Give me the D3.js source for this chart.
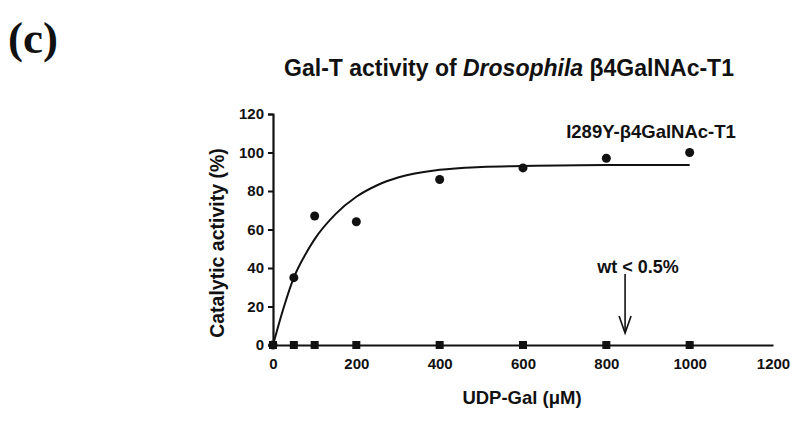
<!DOCTYPE html>
<html>
<head>
<meta charset="utf-8">
<script src="https://cdn.jsdelivr.net/npm/d3@7"></script>
<style>
  body { margin: 0; background: #fff; }
  text { font-family: "Liberation Sans", Arial, sans-serif; font-weight: bold; fill: #111; }
</style>
</head>
<body>
<script>
// measured points, mutant enzyme
var mutX = [0, 50, 100, 200, 400, 600, 800, 1000];
var mutY = [0, 35, 67, 64, 86, 92, 97, 100];
// wild type, all around zero
var wtX = [0, 50, 100, 200, 400, 600, 800, 1000];
var wtY = [0, 0, 0, 0, 0, 0, 0, 0];
// fitted curve
var fitX = [0, 25, 50, 75, 100, 150, 200, 250, 300, 400, 500, 600, 800, 1000];
var fitY = [0, 19, 35, 46, 55, 68, 77, 83, 87, 91, 92.5, 93, 93.5, 93.5];
var xTicks = [0, 200, 400, 600, 800, 1000, 1200];
var yTicks = [0, 20, 40, 60, 80, 100, 120];
var arrowX = 845;

var svg = d3.select("body").append("svg")
    .attr("width", 800)
    .attr("height", 421)

var x = d3.scaleLinear().domain([0, 1200]).range([273, 773])
var y = d3.scaleLinear().domain([0, 120]).range([345, 114])

// y axis
var yAxis = svg.append("g")
    .attr("transform", "translate(" + x(0) + ",0)")
    .call(d3.axisLeft(y).tickValues(yTicks).tickSize(5).tickPadding(4).tickFormat(d3.format("d")))
yAxis.select(".domain").attr("stroke", "#111").attr("stroke-width", 2.2)
yAxis.selectAll(".tick line").attr("stroke", "#111").attr("stroke-width", 2)
yAxis.selectAll(".tick text").style("font-size", "15px").attr("font-family", null)

// x axis
var xAxis = svg.append("g")
    .attr("transform", "translate(0," + y(0) + ")")
    .call(d3.axisBottom(x).tickValues(xTicks).tickSize(0).tickPadding(13).tickSizeOuter(0).tickFormat(d3.format("d")))
xAxis.select(".domain").attr("stroke", "#111").attr("stroke-width", 2.2)
xAxis.selectAll(".tick text").style("font-size", "15px").attr("font-family", null)

// fitted curve
var line = d3.line()
    .x(function(d, i) { return x(fitX[i]) })
    .y(function(d, i) { return y(fitY[i]) })
    .curve(d3.curveMonotoneX)
svg.append("path")
    .attr("d", line(fitX))
    .attr("fill", "none")
    .attr("stroke", "#111")
    .attr("stroke-width", 2)

// wt squares
for (var i = 0; i < wtX.length; i++) {
    svg.append("rect")
        .attr("x", x(wtX[i]) - 4)
        .attr("y", y(wtY[i]) - 4)
        .attr("width", 8)
        .attr("height", 8)
        .attr("fill", "#111")
}

// mutant circles
for (var i = 0; i < mutX.length; i++) {
    svg.append("circle")
        .attr("cx", x(mutX[i]))
        .attr("cy", y(mutY[i]))
        .attr("r", 4.5)
        .attr("fill", "#111")
}

// arrow for wt
svg.append("line")
    .attr("x1", x(arrowX)).attr("x2", x(arrowX))
    .attr("y1", 274).attr("y2", 332)
    .attr("stroke", "#111").attr("stroke-width", 1.6)
svg.append("path")
    .attr("d", "M" + (x(arrowX) - 6) + ",316 L" + x(arrowX) + ",333 L" + (x(arrowX) + 6) + ",316")
    .attr("fill", "none").attr("stroke", "#111").attr("stroke-width", 1.6)
svg.append("text")
    .attr("x", 638).attr("y", 273)
    .attr("text-anchor", "middle")
    .style("font-size", "18px")
    .text("wt < 0.5%")

svg.append("text")
    .attr("x", 651).attr("y", 138)
    .attr("text-anchor", "middle")
    .style("font-size", "18.5px")
    .text("I289Y-β4GalNAc-T1")

// axis titles
svg.append("text")
    .attr("x", 522).attr("y", 404)
    .attr("text-anchor", "middle")
    .style("font-size", "18.5px")
    .text("UDP-Gal (μM)")
svg.append("text")
    .attr("transform", "translate(224,243) rotate(-90)")
    .attr("text-anchor", "middle")
    .style("font-size", "19.5px")
    .text("Catalytic activity (%)")

// title
var title = svg.append("text")
    .attr("x", 509).attr("y", 76)
    .attr("text-anchor", "middle")
    .style("font-size", "23px")
title.append("tspan").text("Gal-T activity of ")
title.append("tspan").style("font-style", "italic").text("Drosophila")
title.append("tspan").text(" β4GalNAc-T1")

// panel letter
svg.append("text")
    .attr("x", 8).attr("y", 53)
    .style("font-family", "'Liberation Serif', 'Times New Roman', serif")
    .style("font-size", "45px")
    .text("(c)")
</script>
</body>
</html>
